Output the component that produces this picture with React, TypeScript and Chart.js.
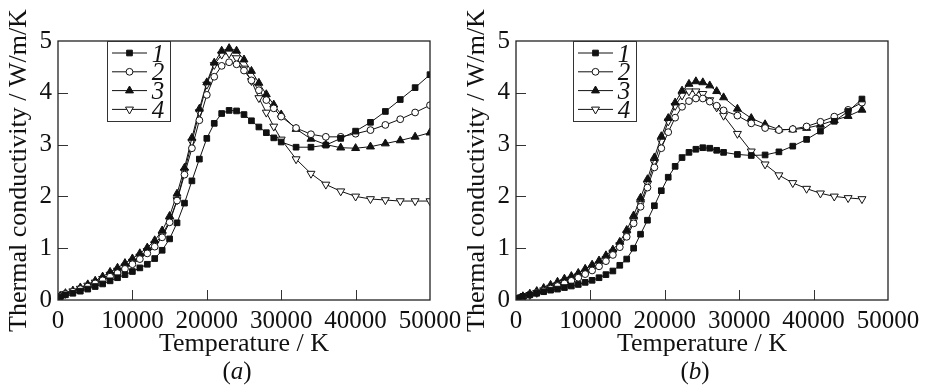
import React, { useEffect, useRef } from 'react';
import { Chart, registerables } from 'chart.js';

Chart.register(...registerables);

// ---------- data ----------
const temperatureA = [300, 1000, 2000, 3000, 4000, 5000, 6000, 7000, 8000, 9000, 10000, 11000, 12000, 13000, 14000, 15000, 16000, 17000, 18000, 19000, 20000, 21000, 22000, 23000, 24000, 25000, 26000, 27000, 28000, 29000, 30000, 32000, 34000, 36000, 38000, 40000, 42000, 44000, 46000, 48000, 50000];
const temperatureB = [280, 930, 1860, 2790, 3720, 4650, 5580, 6510, 7440, 8370, 9300, 10230, 11160, 12090, 13020, 13950, 14880, 15810, 16740, 17670, 18600, 19530, 20460, 21390, 22320, 23250, 24180, 25110, 26040, 26970, 27900, 29760, 31620, 33480, 35340, 37200, 39060, 40920, 42780, 44640, 46500];

const kA1 = [0.06, 0.10, 0.13, 0.17, 0.21, 0.26, 0.31, 0.37, 0.43, 0.49, 0.55, 0.62, 0.69, 0.80, 0.96, 1.18, 1.49, 1.87, 2.30, 2.72, 3.12, 3.41, 3.60, 3.66, 3.65, 3.58, 3.46, 3.34, 3.23, 3.13, 3.05, 2.95, 2.95, 2.99, 3.12, 3.26, 3.43, 3.64, 3.87, 4.10, 4.35];
const kA2 = [0.07, 0.12, 0.16, 0.21, 0.26, 0.32, 0.38, 0.45, 0.52, 0.60, 0.69, 0.79, 0.90, 1.03, 1.21, 1.50, 1.92, 2.42, 2.93, 3.47, 3.96, 4.31, 4.52, 4.59, 4.55, 4.43, 4.24, 4.05, 3.86, 3.70, 3.54, 3.32, 3.20, 3.15, 3.15, 3.21, 3.28, 3.38, 3.49, 3.62, 3.76];
const kA3 = [0.08, 0.13, 0.18, 0.24, 0.30, 0.37, 0.45, 0.54, 0.62, 0.71, 0.80, 0.90, 1.01, 1.15, 1.34, 1.62, 2.05, 2.55, 3.13, 3.69, 4.20, 4.58, 4.81, 4.86, 4.81, 4.64, 4.42, 4.19, 3.97, 3.77, 3.58, 3.30, 3.11, 3.00, 2.94, 2.93, 2.96, 3.02, 3.08, 3.15, 3.23];
const kA4 = [0.07, 0.12, 0.17, 0.22, 0.28, 0.34, 0.41, 0.49, 0.57, 0.65, 0.74, 0.84, 0.95, 1.08, 1.25, 1.53, 1.93, 2.48, 3.05, 3.63, 4.16, 4.54, 4.74, 4.76, 4.67, 4.47, 4.23, 3.90, 3.62, 3.35, 3.10, 2.72, 2.44, 2.23, 2.10, 2.00, 1.95, 1.93, 1.91, 1.91, 1.91];

const kB1 = [0.03, 0.07, 0.10, 0.13, 0.16, 0.19, 0.21, 0.24, 0.27, 0.30, 0.34, 0.38, 0.43, 0.49, 0.56, 0.67, 0.79, 1.00, 1.27, 1.54, 1.82, 2.11, 2.37, 2.58, 2.75, 2.85, 2.91, 2.94, 2.93, 2.89, 2.85, 2.81, 2.79, 2.80, 2.86, 2.97, 3.10, 3.26, 3.45, 3.64, 3.88];
const kB2 = [0.02, 0.06, 0.10, 0.14, 0.18, 0.22, 0.27, 0.32, 0.37, 0.43, 0.50, 0.57, 0.65, 0.75, 0.87, 1.02, 1.22, 1.48, 1.80, 2.17, 2.56, 2.93, 3.24, 3.52, 3.73, 3.84, 3.89, 3.89, 3.83, 3.75, 3.66, 3.56, 3.41, 3.32, 3.28, 3.30, 3.35, 3.44, 3.54, 3.67, 3.81];
const kB3 = [0.02, 0.07, 0.12, 0.17, 0.23, 0.29, 0.35, 0.41, 0.46, 0.52, 0.60, 0.68, 0.76, 0.86, 0.97, 1.12, 1.35, 1.63, 1.97, 2.33, 2.75, 3.16, 3.51, 3.81, 4.04, 4.17, 4.22, 4.20, 4.14, 4.03, 3.91, 3.69, 3.51, 3.39, 3.29, 3.29, 3.32, 3.38, 3.47, 3.55, 3.67];
const kB4 = [0.02, 0.06, 0.10, 0.14, 0.19, 0.24, 0.29, 0.35, 0.40, 0.46, 0.53, 0.61, 0.69, 0.79, 0.92, 1.06, 1.27, 1.53, 1.86, 2.24, 2.65, 3.06, 3.45, 3.75, 3.95, 4.03, 4.03, 3.98, 3.86, 3.72, 3.56, 3.21, 2.87, 2.62, 2.41, 2.26, 2.15, 2.06, 2.00, 1.97, 1.95];

const xTickValues = [0, 10000, 20000, 30000, 40000, 50000];
const yTickValues = [0, 1, 2, 3, 4, 5];
const seriesLabels = ['1', '2', '3', '4'];
const panelLetters = ['a', 'b'];
const xTitle = 'Temperature / K';
const yTitle = 'Thermal conductivity / W/m/K';

// ---------- styles ----------
const SERIF = '"Liberation Serif", "Times New Roman", Times, serif';
const INK = '#111';
const CANVAS_W = 468;
const CANVAS_H = 389;

type MarkerStyle = { style: 'rect' | 'circle' | 'triangle'; rotation: number; fill: string; radius: number };
const markerStyles: MarkerStyle[] = [
  { style: 'rect', rotation: 0, fill: INK, radius: 4 },
  { style: 'circle', rotation: 0, fill: '#fff', radius: 3.4 },
  { style: 'triangle', rotation: 0, fill: INK, radius: 4.6 },
  { style: 'triangle', rotation: 180, fill: '#fff', radius: 4.6 },
];

function drawMarker(ctx: CanvasRenderingContext2D, m: MarkerStyle, x: number, y: number) {
  ctx.beginPath();
  if (m.style === 'rect') {
    const s = m.radius * Math.SQRT1_2;
    ctx.rect(x - s, y - s, 2 * s, 2 * s);
  } else if (m.style === 'circle') {
    ctx.arc(x, y, m.radius, 0, Math.PI * 2);
  } else {
    let rad = (m.rotation * Math.PI) / 180;
    ctx.moveTo(x + Math.sin(rad) * m.radius, y - Math.cos(rad) * m.radius);
    for (let i = 0; i < 2; i++) {
      rad += (2 * Math.PI) / 3;
      ctx.lineTo(x + Math.sin(rad) * m.radius, y - Math.cos(rad) * m.radius);
    }
    ctx.closePath();
  }
  ctx.fillStyle = m.fill;
  ctx.fill();
  ctx.strokeStyle = INK;
  ctx.lineWidth = 1;
  ctx.stroke();
}

const decorPlugin = {
  id: 'decor',
  afterDraw(chart: any, _args: any, opts: any) {
    const ctx: CanvasRenderingContext2D = chart.ctx;
    const { left, right, top, bottom } = chart.chartArea;
    const xs = chart.scales.x;
    const ys = chart.scales.y;
    ctx.save();
    // inward tick marks
    ctx.strokeStyle = '#333';
    ctx.lineWidth = 1;
    xs.ticks.forEach((_t: any, i: number) => {
      const px = Math.round(xs.getPixelForTick(i)) + 0.5;
      if (px <= left + 2 || px >= right - 2) return;
      ctx.beginPath();
      ctx.moveTo(px, bottom);
      ctx.lineTo(px, bottom - 10);
      ctx.stroke();
    });
    ys.ticks.forEach((_t: any, i: number) => {
      const py = Math.round(ys.getPixelForTick(i)) + 0.5;
      if (py <= top + 2 || py >= bottom - 2) return;
      ctx.beginPath();
      ctx.moveTo(left, py);
      ctx.lineTo(left + 10, py);
      ctx.stroke();
    });
    // frame
    ctx.strokeStyle = '#222';
    ctx.lineWidth = 1.3;
    ctx.strokeRect(left, top, right - left, bottom - top);

    // boxed legend
    const bx = left + opts.legendX;
    const by = top;
    ctx.strokeStyle = '#333';
    ctx.lineWidth = 1;
    ctx.strokeRect(bx + 0.5, by + 0.5, 63, 80);
    chart.data.datasets.forEach((ds: any, i: number) => {
      const cy = by + 12 + i * 18.8;
      ctx.strokeStyle = INK;
      ctx.lineWidth = 1;
      ctx.beginPath();
      ctx.moveTo(bx + 5, cy);
      ctx.lineTo(bx + 40, cy);
      ctx.stroke();
      drawMarker(ctx, markerStyles[i], bx + 22.5, cy);
      ctx.fillStyle = INK;
      ctx.font = `italic 25px ${SERIF}`;
      ctx.textAlign = 'center';
      ctx.textBaseline = 'alphabetic';
      ctx.fillText(ds.label, bx + 51, cy + 8.5);
    });

    // panel caption "(a)" with italic letter
    const cx = (left + right) / 2 - 7;
    const baseY = 379;
    ctx.fillStyle = INK;
    ctx.textBaseline = 'alphabetic';
    ctx.textAlign = 'left';
    const up = `25px ${SERIF}`;
    const it = `italic 25px ${SERIF}`;
    ctx.font = up;
    const wl = ctx.measureText('(').width;
    const wr = ctx.measureText(')').width;
    ctx.font = it;
    const wa = ctx.measureText(opts.letter).width;
    let x0 = cx - (wl + wa + wr) / 2;
    ctx.font = up;
    ctx.fillText('(', x0, baseY);
    x0 += wl;
    ctx.font = it;
    ctx.fillText(opts.letter, x0, baseY);
    x0 += wa;
    ctx.font = up;
    ctx.fillText(')', x0, baseY);
    ctx.restore();
  },
};

type PanelProps = { temps: number[]; series: number[][]; letter: string; legendX: number };

function Panel({ temps, series, letter, legendX }: PanelProps) {
  const ref = useRef<HTMLCanvasElement | null>(null);
  useEffect(() => {
    if (!ref.current) return;
    const datasets = series.map((vals, i) => ({
      label: seriesLabels[i],
      data: vals.map((v, j) => ({ x: temps[j], y: v })),
      borderColor: INK,
      borderWidth: 1,
      backgroundColor: markerStyles[i].fill,
      pointStyle: markerStyles[i].style,
      pointRotation: markerStyles[i].rotation,
      pointRadius: markerStyles[i].radius,
      pointBackgroundColor: markerStyles[i].fill,
      pointBorderColor: INK,
      pointBorderWidth: 1,
      tension: 0,
      fill: false,
    }));
    const chart = new Chart(ref.current, {
      type: 'line',
      data: { datasets },
      plugins: [decorPlugin],
      options: {
        responsive: false,
        animation: false,
        devicePixelRatio: 1,
        layout: { padding: { left: 0, top: 41, right: 38, bottom: 30 } },
        plugins: {
          legend: { display: false },
          tooltip: { enabled: false },
          decor: { legendX, letter },
        } as any,
        scales: {
          x: {
            type: 'linear',
            min: 0,
            max: 50000,
            grid: { display: false, drawTicks: false },
            border: { display: false },
            afterBuildTicks: (s: any) => {
              s.ticks = xTickValues.map((v) => ({ value: v }));
            },
            afterFit: (s: any) => {
              s.height = 59;
            },
            ticks: {
              color: INK,
              padding: 6,
              maxRotation: 0,
              autoSkip: false,
              font: { family: SERIF, size: 25, lineHeight: 1.2 },
              callback: (v: any) => String(v),
            },
            title: {
              display: true,
              text: xTitle,
              color: INK,
              font: { family: SERIF, size: 26, lineHeight: 1 },
              padding: { top: 0, bottom: 2 },
            },
          },
          y: {
            type: 'linear',
            min: 0,
            max: 5,
            grid: { display: false, drawTicks: false },
            border: { display: false },
            afterBuildTicks: (s: any) => {
              s.ticks = yTickValues.map((v) => ({ value: v }));
            },
            afterFit: (s: any) => {
              s.width = 58;
            },
            ticks: {
              color: INK,
              padding: 6,
              font: { family: SERIF, size: 25, lineHeight: 1.2 },
              callback: (v: any) => String(v),
            },
            title: {
              display: true,
              text: yTitle,
              color: INK,
              font: { family: SERIF, size: 26, lineHeight: 1 },
              padding: { top: 6, bottom: 0 },
            },
          },
        },
      },
    } as any);
    return () => chart.destroy();
  }, [temps, series, letter, legendX]);
  return <canvas ref={ref} width={CANVAS_W} height={CANVAS_H} style={{ width: CANVAS_W, height: CANVAS_H, display: 'block' }} />;
}

export default function App() {
  return (
    <div style={{ position: 'absolute', left: 0, top: 0, width: 926, height: 389, background: '#fff', overflow: 'hidden' }}>
      <div style={{ position: 'absolute', left: 0, top: 0 }}>
        <Panel temps={temperatureA} series={[kA1, kA2, kA3, kA4]} letter={panelLetters[0]} legendX={49} />
      </div>
      <div style={{ position: 'absolute', left: 458, top: 0 }}>
        <Panel temps={temperatureB} series={[kB1, kB2, kB3, kB4]} letter={panelLetters[1]} legendX={57} />
      </div>
    </div>
  );
}
